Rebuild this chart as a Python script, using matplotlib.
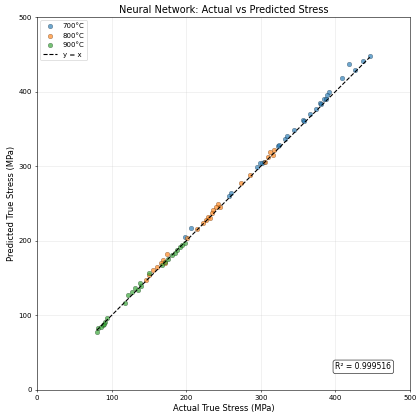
import matplotlib
matplotlib.use("Agg")
import matplotlib.pyplot as plt
import numpy as np

labels = ["700°C", "800°C", "900°C"]
colors = ["#1f77b4", "#ff7f0e", "#2ca02c"]

x700 = [446, 436.6, 418, 426, 409, 392, 389, 385, 379, 374, 366, 356, 344.5, 332, 323,
        335.5, 325, 304, 301, 294.5, 259.6, 257.8, 206, 198.4, 299, 381, 358, 387]
y700 = [448, 441, 436.6, 429, 418.6, 399, 395, 390, 385, 377, 370, 362, 348.5, 337, 327,
        340.5, 328, 306, 304, 298.5, 263.5, 260, 216.7, 205.5, 304, 383, 360, 390]

x800 = [316.8, 312, 318, 310, 285.5, 273.5, 243, 240, 236.3, 234, 229.6, 226.5, 222, 214,
        200.7, 174.7, 169.3, 165.8, 161.3, 156, 150.5, 146, 305, 245, 171, 232]
y800 = [315, 319.5, 321.7, 312.7, 288, 278, 249, 245.7, 241, 237.6, 232, 228, 223.5, 215.3,
        203.4, 182.3, 174.3, 169.8, 165.3, 160.8, 154, 147.5, 305, 245, 170, 230]

x900 = [198.4, 191.7, 187, 180.5, 171.6, 150.5, 138, 131.4, 127, 122.4, 118, 93.4, 91, 88,
        82, 80, 195, 185, 176, 168, 140, 135, 90, 86]
y900 = [196.6, 192, 187.7, 181, 172, 156.4, 143, 136.3, 131.8, 127.3, 116, 96, 91.6, 87,
        82.6, 78, 194, 184, 175, 168, 140, 134, 89, 85]

r2_text = "R² = 0.999516"

fig = plt.figure(figsize=(8.38, 8.4), dpi=50)
ax = fig.add_axes([37/419, 30/420, 373/419, 373/420])

for xs, ys, lab, c in zip([x700, x800, x900], [y700, y800, y900], labels, colors):
    ax.scatter(xs, ys, s=45, alpha=0.65, color=c, edgecolors="k", linewidths=0.4, label=lab)

allv = x700 + x800 + x900
lo, hi = min(allv), max(allv)
ax.plot([lo, hi], [lo, hi], "k--", lw=1.6, label="y = x")

ax.set_xlim(0, 500)
ax.set_ylim(0, 500)
ax.set_xlabel("Actual True Stress (MPa)", fontsize=12)
ax.set_ylabel("Predicted True Stress (MPa)", fontsize=12)
ax.set_title("Neural Network: Actual vs Predicted Stress", fontsize=14)
ax.grid(True, alpha=0.3)
ax.legend(loc="upper left", fontsize=10)
ax.text(0.95, 0.05, r2_text, transform=ax.transAxes, ha="right", va="bottom", fontsize=11,
        bbox=dict(boxstyle="round", facecolor="white", alpha=0.8))

fig.savefig("out.png", dpi=50)
